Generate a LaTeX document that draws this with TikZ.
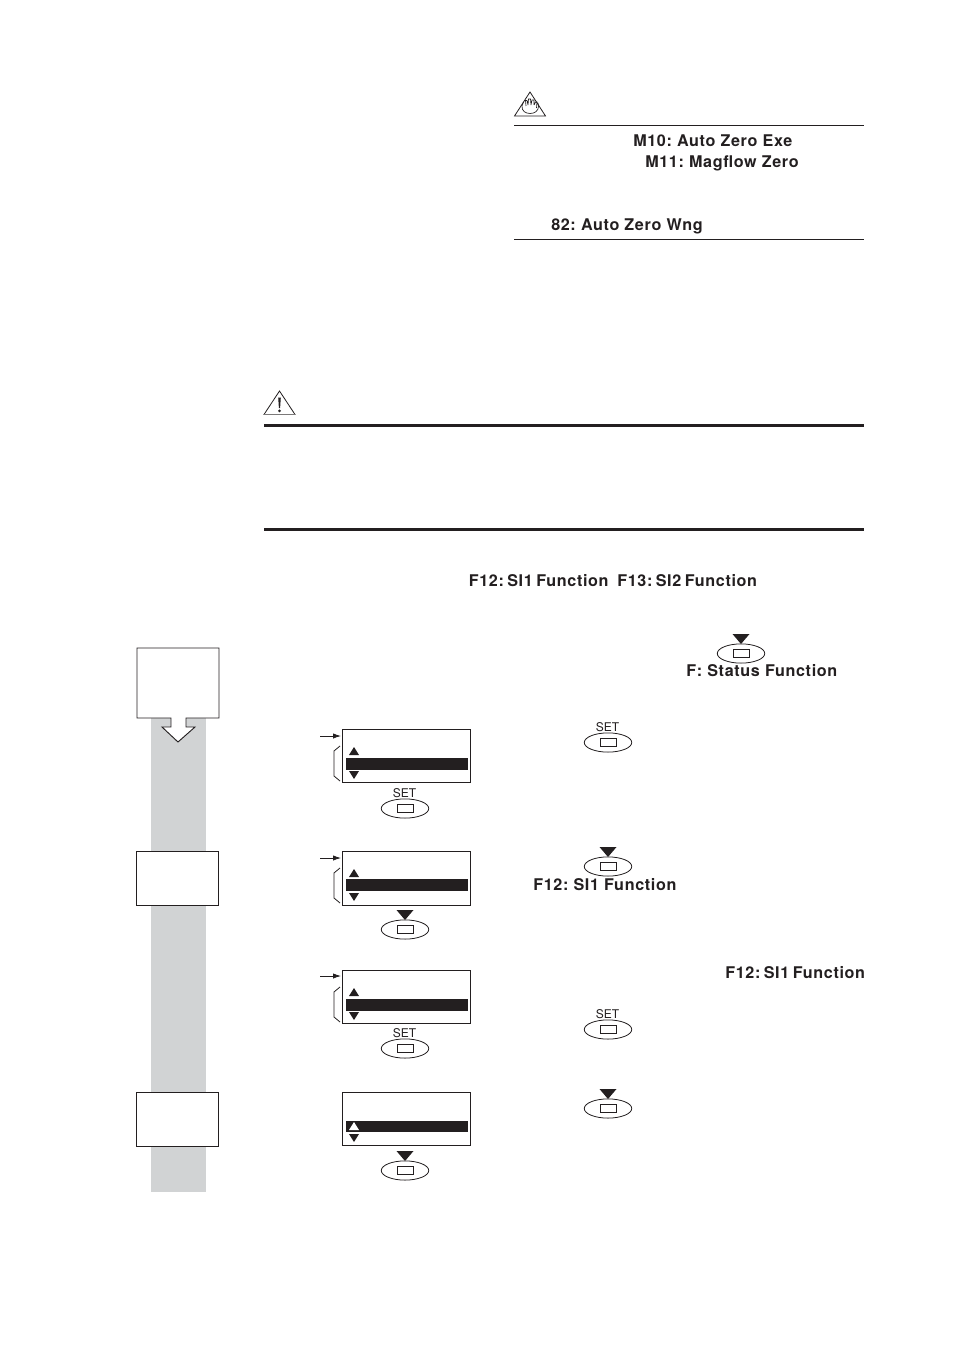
\documentclass[tikz,border=0pt]{standalone}
\usepackage{fontspec}
\usetikzlibrary{arrows.meta}
\newfontfamily\boldlabel[LetterSpace=4.0]{TeX Gyre Heros Bold}
\newfontfamily\setlabel{TeX Gyre Heros}
\definecolor{bandgray}{HTML}{D1D3D4}
\definecolor{inkc}{HTML}{231F20}
\tikzset{
  x=0.75pt,y=-0.75pt,
  paramtext/.style={inner sep=0pt,anchor=base west,text=inkc,font=\boldlabel\fontsize{12.1pt}{13pt}\selectfont\frenchspacing},
  tightwords/.style={execute at begin node={\spaceskip=2.6pt plus 0pt minus 0pt\relax}},
  setcaption/.style={inner sep=0pt,anchor=center,text=inkc,font=\setlabel\fontsize{9pt}{10pt}\selectfont},
  thinrule/.style={draw=inkc,line width=0.65pt},
  thickrule/.style={draw=inkc,line width=2.2pt},
  linework/.style={draw=inkc,line width=0.6pt},
  lcdframe/.style={draw=inkc,line width=0.7pt,fill=white},
  lcdbar/.style={fill=inkc},
  solidtri/.style={fill=inkc},
  stepframe/.style={draw=inkc,line width=0.7pt,fill=white},
}
\newcommand{\keybody}[2]{
  \draw[linework,fill=white] (#1,#2+0.5) ellipse [x radius=17.8pt,y radius=7.2pt];
  \draw[linework,fill=white] (#1-8,#2-3.5) rectangle (#1+8,#2+4.5);
}
\newcommand{\downkey}[2]{
  \keybody{#1}{#2}
  \fill[solidtri] (#1-8.5,#2-19) -- (#1+8.5,#2-19) -- (#1,#2-9) -- cycle;
}
\newcommand{\setkey}[3]{
  \keybody{#1}{#2}
  \node[setcaption] (#3) at (#1-0.5,#2-14.5) {SET};
}
\newcommand{\lcd}[6]{
  \draw[lcdframe] (342.5,#1-0.5) rectangle (470.5,#4+0.5);
  \fill[lcdbar] (346,#2) rectangle (468,#3);
  \fill[solidtri] (349,#6-4) -- (359,#6-4) -- (354,#6+4) -- cycle;
}
\newcommand{\lcdpointer}[2]{
  \draw[linework,-{Latex[length=6pt,width=4pt]}] (320,#1) -- (341,#1);
  \draw[linework] (340,#2) -- (334,#2+5) -- (334,#2+30) -- (340,#2+35);
}
\begin{document}
\begin{tikzpicture}
\useasboundingbox (0,0) rectangle (954,1351);
\fill[white] (0,0) rectangle (954,1351);

% note icon
\draw[linework,line join=miter] (530,92) -- (545.5,116) -- (514.5,116) -- cycle;
\draw[linework,line width=0.5pt] (522,106) .. controls (521,116) and (539,116) .. (538.5,106) -- (538,103)
  (522,106) -- (523.5,102) (526,106) -- (525.5,100.5) -- (527,100.5) -- (528,105)
  (528,105) -- (528.5,99) -- (530.5,99) -- (531,105)
  (531,105) -- (532,100) -- (534,100) -- (534,105)
  (534,105) -- (535.5,102) -- (537,102) -- (536.5,108);
\draw[thinrule] (514,125) -- (864,125);
\node[paramtext] (m10) at (633,146.5) {M10: Auto Zero Exe};
\node[paramtext] (m11) at (645,167.5) {M11: Magflow Zero};
\node[paramtext] (w82) at (551,230.5) {82: Auto Zero Wng};
\draw[thinrule] (514,239) -- (864,239);

% warning icon
\draw[linework] (279.5,391) -- (295,414.5) -- (264,414.5) -- cycle;
\draw[draw=inkc!60,line width=1.2pt] (264,414.5) -- (295,414.5);
\fill[inkc] (278.2,397.5) -- (280.8,397.5) -- (280.1,408) -- (278.9,408) -- cycle;
\fill[inkc] (279.5,410.8) circle[radius=1.5];
\draw[thickrule] (264,425.5) -- (864,425.5);
\draw[thickrule] (264,529.5) -- (864,529.5);

\node[paramtext,tightwords] (f12a) at (468.5,586) {F12: SI1 Function};
\node[paramtext,tightwords] (f13) at (617,586) {F13: SI2 Function};

% gray procedure band and step boxes
\fill[bandgray] (151,718) rectangle (206,1192);
\draw[stepframe,line join=miter] (137,648) -- (219,648) -- (219,718) -- (186,718) -- (186,727) -- (195,727) -- (178,742) -- (162,727) -- (171,727) -- (171,718) -- (137,718) -- cycle;
\draw[stepframe] (136.5,851.5) rectangle (218.5,905.5);
\draw[stepframe] (136.5,1092.5) rectangle (218.5,1146.5);

% displays
\lcd{730}{758}{770}{782}{751}{775}
\fill[solidtri] (349,755) -- (359,755) -- (354,747) -- cycle;
\lcdpointer{736}{746}
\setkey{405}{808}{setA}

\lcd{852}{879}{891}{905}{873}{897}
\fill[solidtri] (349,877) -- (359,877) -- (354,869) -- cycle;
\lcdpointer{858}{868}
\downkey{405}{929}

\lcd{971}{999}{1011}{1023}{992}{1016}
\fill[solidtri] (349,996) -- (359,996) -- (354,988) -- cycle;
\lcdpointer{976}{987}
\setkey{405}{1048}{setB}

\lcd{1093}{1121}{1132}{1145}{1126}{1138}
\fill[white] (349,1130) -- (359,1130) -- (354,1122) -- cycle;
\downkey{405}{1170}

% right-hand column
\downkey{741}{653}
\node[paramtext] (fstatus) at (686,676) {F: Status Function};
\setkey{608}{742}{setC}
\downkey{608}{866}
\node[paramtext] (f12b) at (533,890) {F12: SI1 Function};
\node[paramtext,tightwords] (f12c) at (725,978) {F12: SI1 Function};
\setkey{608}{1029}{setD}
\downkey{608}{1108}
\end{tikzpicture}
\end{document}
